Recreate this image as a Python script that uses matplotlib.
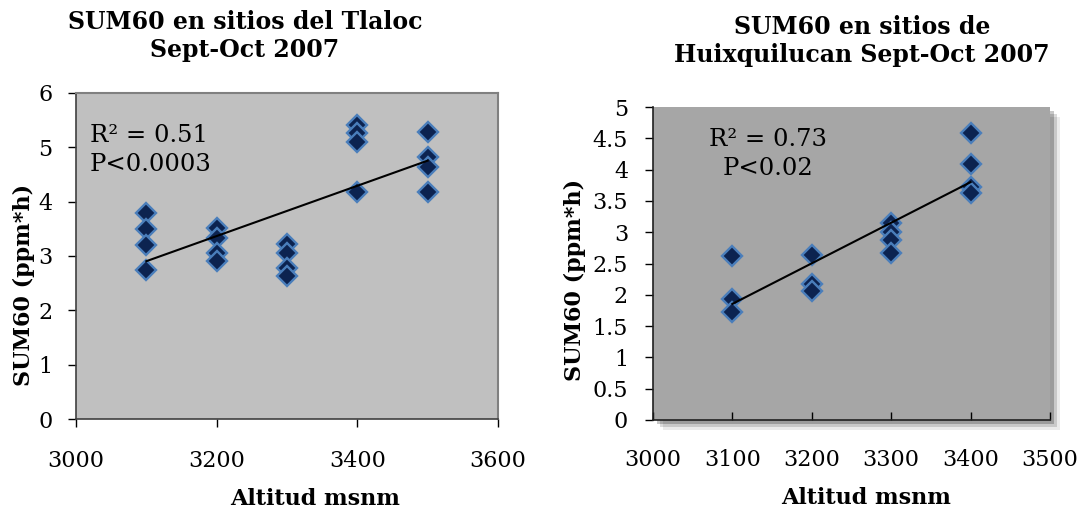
import numpy as np
import matplotlib.pyplot as plt
import matplotlib.patheffects as pe

# Tlaloc sites
alt_tlaloc = [3100, 3100, 3100, 3100, 3200, 3200, 3200, 3200, 3300, 3300, 3300, 3300,
              3400, 3400, 3400, 3400, 3500, 3500, 3500, 3500]
sum60_tlaloc = [3.8, 3.5, 3.2, 2.75, 3.51, 3.33, 3.05, 2.9, 3.23, 3.06, 2.77, 2.63,
                5.41, 5.26, 5.09, 4.17, 5.28, 4.83, 4.64, 4.18]

# Huixquilucan sites
alt_huix = [3100, 3100, 3100, 3200, 3200, 3200, 3300, 3300, 3300, 3300,
            3400, 3400, 3400, 3400]
sum60_huix = [2.62, 1.94, 1.73, 2.64, 2.18, 2.06, 3.15, 3.0, 2.88, 2.66,
              4.59, 4.09, 3.72, 3.62]

plt.rcParams['font.family'] = ['DejaVu Serif']

fig = plt.figure(figsize=(10.83, 5.12), dpi=100)
ax1 = fig.add_axes([0.0702, 0.1816, 0.3896, 0.6368])
ax2 = fig.add_axes([0.603, 0.1797, 0.3665, 0.6113])

mk = dict(marker='D', markersize=10, markerfacecolor='#0c2350',
          markeredgecolor='#4a7ebb', markeredgewidth=1.7, linestyle='none', zorder=3)


def trend(ax, x, y):
    m, b = np.polyfit(x, y, 1)
    xs = np.array([min(x), max(x)])
    ax.plot(xs, m * xs + b, color='black', lw=1.5, zorder=4)


# left panel
ax1.set_facecolor('#c0c0c0')
ax1.plot(alt_tlaloc, sum60_tlaloc, **mk)
trend(ax1, alt_tlaloc, sum60_tlaloc)
ax1.set_xlim(3000, 3600)
ax1.set_ylim(0, 6)
ax1.set_xticks([3000, 3200, 3400, 3600])
ax1.set_yticks(range(0, 7))
ax1.tick_params(direction='out', length=6, labelsize=16, width=1)
ax1.tick_params(axis='x', pad=16)
ax1.tick_params(axis='y', pad=11)
for s in ['top', 'right']:
    ax1.spines[s].set_color('#808080')
    ax1.spines[s].set_linewidth(1.5)
for s in ['left', 'bottom']:
    ax1.spines[s].set_color('#404040')
    ax1.spines[s].set_linewidth(1.2)
ax1.text(0.033, 0.825, 'R² = 0.51\nP<0.0003', transform=ax1.transAxes,
         fontsize=17.5, va='center', ha='left', linespacing=1.3)
fig.text(0.226, 0.93, 'SUM60 en sitios del Tlaloc\nSept-Oct 2007', ha='center',
         va='center', fontsize=17, fontweight='bold', linespacing=1.2)
ax1.set_xlabel('Altitud msnm', fontsize=16, fontweight='bold', va='top')
ax1.xaxis.set_label_coords(0.566, -0.212)
ax1.set_ylabel('SUM60 (ppm*h)', fontsize=16, fontweight='bold')
ax1.yaxis.set_label_coords(-0.097, 0.41)

# right panel, with drop shadow
ax2.set_facecolor('#a6a6a6')
ax2.patch.set_path_effects([
    pe.SimplePatchShadow(offset=(7, -7), shadow_rgbFace='black', alpha=0.08),
    pe.SimplePatchShadow(offset=(5, -5), shadow_rgbFace='black', alpha=0.14),
    pe.SimplePatchShadow(offset=(3, -3), shadow_rgbFace='black', alpha=0.22),
    pe.Normal()])
ax2.plot(alt_huix, sum60_huix, **mk)
trend(ax2, alt_huix, sum60_huix)
ax2.set_xlim(3000, 3500)
ax2.set_ylim(0, 5)
ax2.set_xticks(range(3000, 3501, 100))
ax2.set_yticks(np.arange(0, 5.01, 0.5))
ax2.set_yticklabels(['0', '0.5', '1', '1.5', '2', '2.5', '3', '3.5', '4', '4.5', '5'])
ax2.tick_params(labelsize=16, width=1)
ax2.tick_params(axis='y', direction='out', length=6, pad=12)
ax2.tick_params(axis='x', direction='in', length=6, pad=21)
for s in ['top', 'right']:
    ax2.spines[s].set_visible(False)
for s in ['left', 'bottom']:
    ax2.spines[s].set_color('#202020')
    ax2.spines[s].set_linewidth(1.2)
ax2.text(0.29, 0.85, 'R² = 0.73\nP<0.02', transform=ax2.transAxes,
         fontsize=17.5, va='center', ha='center', linespacing=1.3)
fig.text(0.796, 0.92, 'SUM60 en sitios de\nHuixquilucan Sept-Oct 2007', ha='center',
         va='center', fontsize=17, fontweight='bold', linespacing=1.2)
ax2.set_xlabel('Altitud msnm', fontsize=16, fontweight='bold', va='top')
ax2.xaxis.set_label_coords(0.537, -0.215)
ax2.set_ylabel('SUM60 (ppm*h)', fontsize=16, fontweight='bold')
ax2.yaxis.set_label_coords(-0.169, 0.447)

fig.savefig('out.png', dpi=100, facecolor='white')
